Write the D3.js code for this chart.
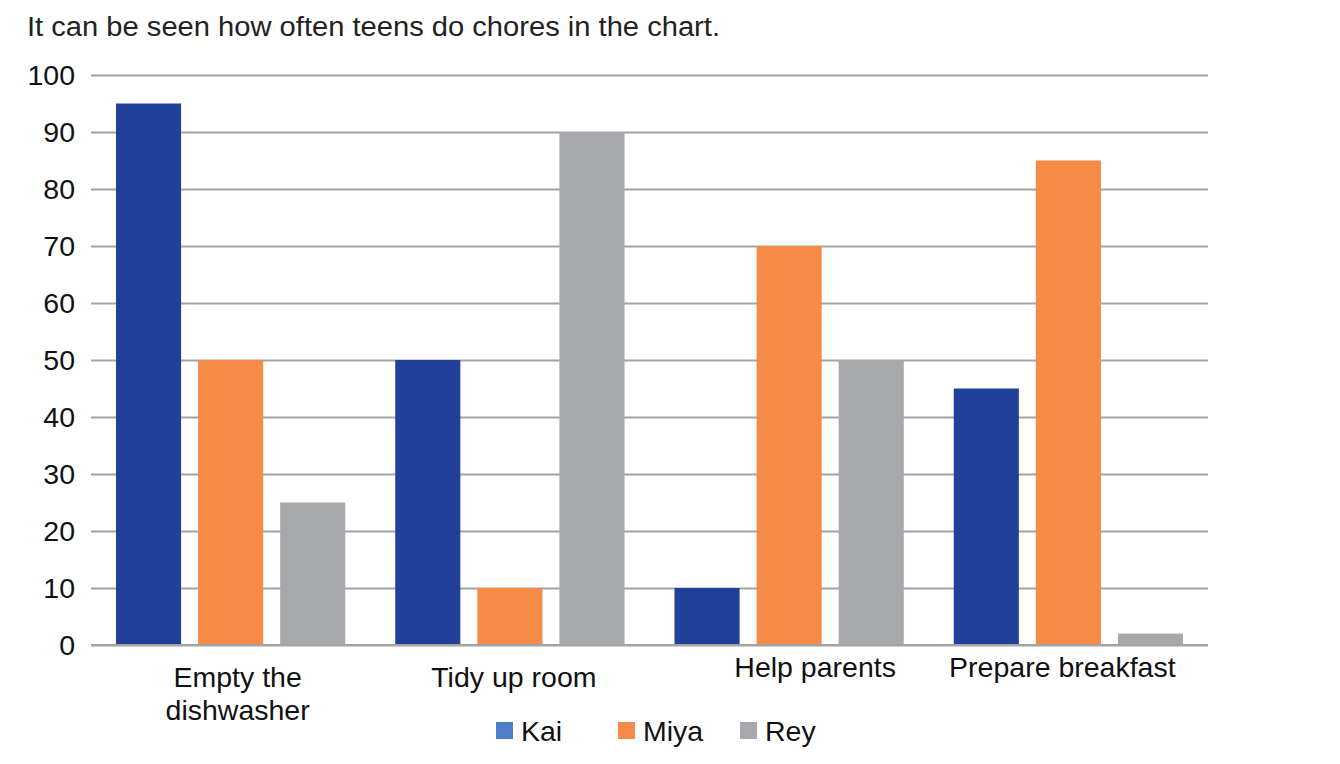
<!DOCTYPE html>
<html>
<head>
<meta charset="utf-8">
<script src="https://cdn.jsdelivr.net/npm/d3@7"></script>
<style>
  html, body { margin: 0; padding: 0; background: #ffffff; }
  svg { display: block; font-family: "Liberation Sans", Arial, Helvetica, sans-serif; }
</style>
</head>
<body>
<svg id="chart" width="1340" height="764"></svg>
<script>
// ---- data ----
const title = "It can be seen how often teens do chores in the chart.";
const categories = ["Empty the dishwasher", "Tidy up room", "Help parents", "Prepare breakfast"];
const categoryLines = [["Empty the", "dishwasher"], ["Tidy up room"], ["Help parents"], ["Prepare breakfast"]];
const seriesNames = ["Kai", "Miya", "Rey"];
const kaiValues = [95, 50, 10, 45];
const miyaValues = [50, 10, 70, 85];
const reyValues = [25, 90, 50, 2];
const yTicks = [0, 10, 20, 30, 40, 50, 60, 70, 80, 90, 100];

// ---- styles / layout ----
const barColors = ["#21409a", "#f68b47", "#a6a8ab"];
const legendColors = ["#4d80c6", "#f68b47", "#a6a8ab"];
const labelDx = [7, 4, 26, -6];
const labelBaseline = [687, 687, 677, 677];

const seriesValues = [kaiValues, miyaValues, reyValues];
const svg = d3.select("#chart");

const mLeft = 91, mRight = 1208, mTop = 75, mBottom = 645;

const y = d3.scaleLinear().domain([0, 100]).range([mBottom, mTop]);
const x0 = d3.scaleBand().domain(categories).range([mLeft, mRight])
  .paddingInner(0.179).paddingOuter(0.0895);
const x1 = d3.scaleBand().domain(seriesNames).range([0, x0.bandwidth()])
  .paddingInner(0.207).paddingOuter(0);

// title
svg.append("text").attr("x", 27).attr("y", 36)
  .attr("font-size", 27).attr("fill", "#222")
  .attr("textLength", 693).attr("lengthAdjust", "spacingAndGlyphs")
  .text(title);

// gridlines + y labels
const yAxis = d3.axisLeft(y).tickValues(yTicks).tickSize(-(mRight - mLeft)).tickPadding(16);
const gy = svg.append("g").attr("transform", `translate(${mLeft},0)`).call(yAxis);
gy.select(".domain").remove();
gy.selectAll(".tick line").attr("stroke", "#a3a3a3").attr("stroke-width", 2);
gy.selectAll(".tick text").attr("font-size", 28.5).attr("fill", "#111")
  .attr("font-family", "'Liberation Sans', Arial, sans-serif");

// bars
const groups = svg.append("g").selectAll("g").data(categories).join("g")
  .attr("transform", d => `translate(${x0(d)},0)`);
groups.selectAll("rect")
  .data((d, i) => seriesNames.map((s, j) => ({ s, j, v: seriesValues[j][i] })))
  .join("rect")
  .attr("x", d => x1(d.s))
  .attr("width", x1.bandwidth())
  .attr("y", d => y(d.v))
  .attr("height", d => y(0) - y(d.v))
  .attr("fill", d => barColors[d.j]);

// baseline
svg.append("line").attr("x1", mLeft).attr("x2", mRight).attr("y1", y(0)).attr("y2", y(0))
  .attr("stroke", "#a3a3a3").attr("stroke-width", 2);

// category labels
categories.forEach((c, i) => {
  const cx = x0(c) + x0.bandwidth() / 2 + labelDx[i];
  const t = svg.append("text")
    .attr("x", cx)
    .attr("y", labelBaseline[i])
    .attr("text-anchor", "middle").attr("font-size", 28.5).attr("fill", "#111");
  categoryLines[i].forEach((line, k) => {
    t.append("tspan").attr("x", cx).attr("dy", k === 0 ? 0 : 33).text(line);
  });
});

// legend
const legendX = [496, 618, 740];
const lg = svg.append("g");
seriesNames.forEach((s, j) => {
  lg.append("rect").attr("x", legendX[j]).attr("y", 722).attr("width", 17).attr("height", 17)
    .attr("fill", legendColors[j]);
  lg.append("text").attr("x", legendX[j] + 25).attr("y", 741)
    .attr("font-size", 28.5).attr("fill", "#111").text(s);
});
</script>
</body>
</html>
